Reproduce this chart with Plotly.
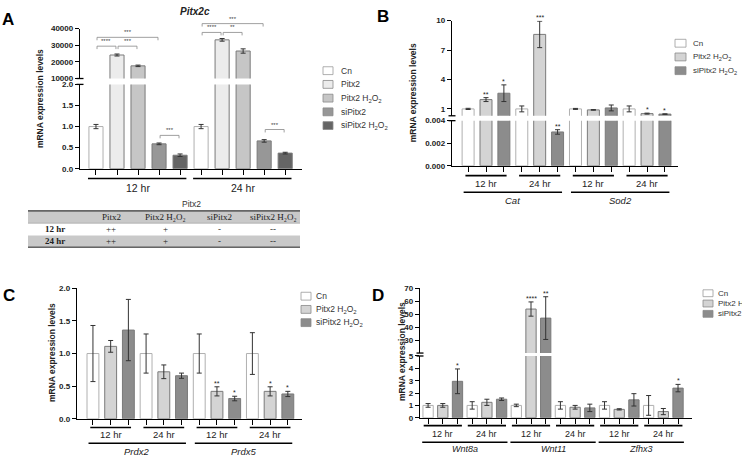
import plotly.graph_objects as go

W, H = 742, 461
FONT = "Liberation Sans, Arial, sans-serif"
SERIF = "Liberation Serif, Times New Roman, serif"

# ===================== DATA =====================
# Panel A - Pitx2c
A_series = ["Cn", "Pitx2", "Pitx2 H<sub>2</sub>O<sub>2</sub>", "siPitx2", "siPitx2 H<sub>2</sub>O<sub>2</sub>"]
A_times = ["12 hr", "24 hr"]
A_vals_12hr = [1.0, 24100, 17600, 0.59, 0.32]
A_errs_12hr = [0.05, 600, 450, 0.02, 0.03]
A_vals_24hr = [1.0, 33200, 26500, 0.66, 0.37]
A_errs_24hr = [0.05, 800, 1300, 0.03, 0.02]
A_sig_pairs = [(0, 1), (1, 2), (0, 3), (3, 4), (5, 6), (6, 7), (5, 8), (8, 9)]
A_sig_labels = ["****", "***", "***", "***", "****", "**", "***", "***"]

# Table under panel A
T_title = "Pitx2"
T_header = ["", "Pitx2", "Pitx2 H₂O₂", "siPitx2", "siPitx2 H₂O₂"]
T_row_12hr = ["12 hr", "++", "+", "-", "--"]
T_row_24hr = ["24 hr", "++", "+", "-", "--"]

# Panels B, C, D share the same three series
BCD_series = ["Cn", "Pitx2 H<sub>2</sub>O<sub>2</sub>", "siPitx2 H<sub>2</sub>O<sub>2</sub>"]

# Panel B
B_genes = ["Cat", "Sod2"]
B_times = ["12 hr", "24 hr", "12 hr", "24 hr"]
B_vals = [[1.0, 1.95, 2.6], [1.0, 8.6, 0.0030], [1.0, 0.9, 1.1], [1.0, 0.52, 0.47]]
B_errs = [[0.06, 0.2, 0.85], [0.3, 1.35, 0.0002], [0.05, 0.03, 0.3], [0.3, 0.05, 0.03]]
B_stars = ["", "**", "*", "", "***", "**", "", "", "", "", "*", "*"]

# Panel C
C_genes = ["Prdx2", "Prdx5"]
C_times = ["12 hr", "24 hr", "12 hr", "24 hr"]
C_vals = [[1.0, 1.11, 1.36], [1.0, 0.72, 0.66], [1.0, 0.42, 0.31], [1.0, 0.42, 0.38]]
C_errs = [[0.43, 0.09, 0.47], [0.30, 0.105, 0.04], [0.30, 0.07, 0.035], [0.32, 0.07, 0.04]]
C_stars = ["", "", "", "", "", "", "", "**", "*", "", "*", "*"]

# Panel D
D_genes = ["Wnt8a", "Wnt11", "Zfhx3"]
D_times = ["12 hr", "24 hr", "12 hr", "24 hr", "12 hr", "24 hr"]
D_vals = [[1.0, 1.0, 2.95], [1.0, 1.25, 1.5], [1.0, 54, 47], [1.0, 0.85, 0.8], [1.0, 0.68, 1.45], [1.0, 0.5, 2.4]]
D_errs = [[0.15, 0.15, 1.0], [0.3, 0.25, 0.1], [0.1, 5.5, 16.5], [0.3, 0.15, 0.3], [0.3, 0.05, 0.5], [0.8, 0.25, 0.3]]
D_stars = ["", "", "*", "", "", "", "", "****", "**", "", "", "", "", "", "", "", "", "*"]

# ===================== STYLE =====================
A_colors = ["#ffffff", "#ececec", "#c6c6c6", "#979797", "#656565"]
BCD_colors = ["#ffffff", "#d4d4d4", "#8c8c8c"]


def fx(p):
    return p / W


def fy(p):
    return 1 - p / H


fig = go.Figure()
shapes = []
anns = []


def text(x, y, s, size=9, xref="paper", yref="paper", color="#222", family=FONT,
         xanchor="center", yanchor="middle", **kw):
    if xref == "paper":
        x = fx(x)
    if yref == "paper":
        y = fy(y)
    anns.append(dict(x=x, y=y, xref=xref, yref=yref, text=s, showarrow=False,
                     xanchor=xanchor, yanchor=yanchor,
                     font=dict(family=family, size=size, color=color), **kw))


def line(x0, y0, x1, y1, xref="paper", color="black", width=1.5):
    if xref == "paper":
        x0, x1 = fx(x0), fx(x1)
    shapes.append(dict(type="line", x0=x0, x1=x1, y0=fy(y0), y1=fy(y1), xref=xref, yref="paper",
                       line=dict(color=color, width=width)))


axis_base = dict(showline=True, linecolor="black", linewidth=1.4, ticks="outside", ticklen=4,
                 tickwidth=1.3, tickcolor="black", showgrid=False, zeroline=False,
                 tickfont=dict(family=FONT, size=8, color="#222", weight="bold"))

layout_axes = {}


def setup_panel(xname, xdom_px, xrange_, npos, ylist):
    """ylist: list of (yname, dom_px(bottom, top), range, tickvals, fmt)"""
    xkey = "xaxis" + xname[1:]
    layout_axes[xkey] = dict(axis_base, domain=[fx(xdom_px[0]), fx(xdom_px[1])], range=list(xrange_),
                             tickvals=list(range(npos)), showticklabels=False, ticklen=5,
                             anchor=ylist[0][0])
    for yname, dom, rng, tv, fmt in ylist:
        ykey = "yaxis" + yname[1:]
        layout_axes[ykey] = dict(axis_base, domain=[fy(dom[0]), fy(dom[1])], range=list(rng),
                                 tickvals=tv, tickformat=fmt, anchor=xname)


def add_bars(series, colors, group_vals, group_errs, xname, ynames, width):
    n = len(series)
    for i in range(n):
        xs = [g * n + i for g in range(len(group_vals))]
        ys = [gv[i] for gv in group_vals]
        es = [ge[i] for ge in group_errs]
        lc = "#b0b0b0" if i == 0 else "#7a7a7a"
        for yn in ynames:
            fig.add_trace(go.Bar(x=xs, y=ys, width=width, xaxis=xname, yaxis=yn,
                                 marker=dict(color=colors[i], line=dict(color=lc, width=1)),
                                 error_y=dict(type="data", array=es, visible=True, color="#333",
                                              thickness=1, width=2.5),
                                 name=series[i], showlegend=False, hoverinfo="skip"))


def add_stars(stars, group_vals, group_errs, n, xname, ylow, yup=None, up_min=None, size=7):
    for k, s in enumerate(stars):
        if not s:
            continue
        v = group_vals[k // n][k % n]
        e = group_errs[k // n][k % n]
        yn = yup if (yup and v >= up_min) else ylow
        text(k, v + e, s, size=size, xref=xname, yref=yn, yanchor="bottom", yshift=-2)


def legend(series, colors, x0, y0, step, size=9, bw=10, bh=8, gap=6):
    for i, (s, c) in enumerate(zip(series, colors)):
        yc = y0 + i * step
        lc = "#9a9a9a" if i == 0 else "#8a8a8a"
        shapes.append(dict(type="rect", xref="paper", yref="paper", x0=fx(x0), x1=fx(x0 + bw),
                           y0=fy(yc + bh / 2), y1=fy(yc - bh / 2), fillcolor=c,
                           line=dict(color=lc, width=0.8)))
        text(x0 + bw + gap, yc, s, size=size, color="#333", xanchor="left", yanchor="middle")


def break_marks(xpx, ys_px):
    for y in ys_px:
        line(xpx - 3.5, y, xpx + 3.5, y, width=1.3)


def group_labels(times, genes, n, xname, t_ext, g_ext, ty_line, ty_text, gy_line, gy_text, tsize, gsize):
    per_gene = len(times) // len(genes)
    for gi, t in enumerate(times):
        a, b = gi * n, gi * n + n - 1
        line(a - t_ext, ty_line, b + t_ext, ty_line, xref=xname, width=1.6)
        text((a + b) / 2, ty_text, t, size=tsize, xref=xname, color="#222")
    for gj, g in enumerate(genes):
        a, b = gj * per_gene * n, (gj + 1) * per_gene * n - 1
        line(a - g_ext, gy_line, b + g_ext, gy_line, xref=xname, width=1.6)
        text((a + b) / 2, gy_text, "<i>" + g + "</i>", size=gsize, xref=xname, color="#222")


# ===================== PANEL A =====================
setup_panel("x", (80, 302), (-0.76, 9.8), 10,
            [("y", (168, 82), (0, 2), [0, 0.5, 1, 1.5, 2], ".1f"),
             ("y2", (76, 25), (10000, 40000), [10000, 20000, 30000, 40000], "d")])
add_bars(A_series, A_colors, [A_vals_12hr, A_vals_24hr], [A_errs_12hr, A_errs_24hr], "x", ["y", "y2"], 0.67)
break_marks(80, [76, 82])
for gi, t in enumerate(A_times):
    a, b = gi * 5, gi * 5 + 4
    line(a - 0.38, 178, b + 0.3, 178, xref="x", width=1.6)
    text((a + b) / 2, 188, t, size=10.5, xref="x")
A_bracket_y = [43, 43, 34, 134, 29, 29, 20, 128]
for (i, j), lab, yb in zip(A_sig_pairs, A_sig_labels, A_bracket_y):
    x0, x1 = i + 0.05, j - 0.05
    shapes.append(dict(type="path", xref="x", yref="paper",
                       path=f"M {x0},{fy(yb + 3)} L {x0},{fy(yb)} L {x1},{fy(yb)} L {x1},{fy(yb + 3)}",
                       line=dict(color="#888", width=0.8)))
    text((x0 + x1) / 2, yb, lab, size=6, xref="x", color="#444", yanchor="bottom")
text(195, 8, "<b><i>Pitx2c</i></b>", size=10)
text(40, 97, "<b>mRNA expression levels</b>", size=8.5, textangle=-90)
text(8, 16, "<b>A</b>", size=17, color="black")
legend(A_series, A_colors, 323, 68, 14, size=8.5)

# table
text(191, 204, T_title, size=8.5, color="#333")
shapes.append(dict(type="rect", xref="paper", yref="paper", x0=fx(28), x1=fx(300), y0=fy(223), y1=fy(211),
                   fillcolor="#c9c9c9", line=dict(width=0)))
shapes.append(dict(type="rect", xref="paper", yref="paper", x0=fx(28), x1=fx(300), y0=fy(247), y1=fy(236),
                   fillcolor="#c9c9c9", line=dict(width=0)))
line(28, 211, 300, 211, color="#333", width=1.4)
line(28, 223.5, 300, 223.5, color="#777", width=0.6)
line(28, 248, 300, 248, color="#333", width=1.4)
T_col_x = [55, 111, 165, 219, 273]
for row, yrow, bold in [(T_header, 217, False), (T_row_12hr, 229.5, True), (T_row_24hr, 241.5, True)]:
    for k, (cx, s) in enumerate(zip(T_col_x, row)):
        if not s:
            continue
        lab = f"<b>{s}</b>" if (bold and k == 0) else s
        text(cx, yrow, lab, size=9, family=SERIF, color="#222")

# ===================== PANEL B =====================
setup_panel("x2", (452, 678), (-0.9, 11.73), 12,
            [("y3", (165, 119), (0, 0.004), [0, 0.002, 0.004], ".3f"),
             ("y4", (114, 17), (0.3, 10), [1, 4, 7, 10], "d")])
add_bars(BCD_series, BCD_colors, B_vals, B_errs, "x2", ["y3", "y4"], 0.67)
add_stars(B_stars, B_vals, B_errs, 3, "x2", "y3", "y4", 0.3)
break_marks(452, [114, 119])
group_labels(B_times, B_genes, 3, "x2", 0.15, 0.25, 175, 183, 192, 200, 9.5, 9.5)
text(413, 91, "<b>mRNA expression levels</b>", size=8.5, textangle=-90)
text(383, 13, "<b>B</b>", size=17, color="black")
legend(BCD_series, BCD_colors, 675, 40, 14, size=8, bw=11, gap=5)

# ===================== PANEL C =====================
setup_panel("x3", (77, 302), (-0.9, 11.8), 12,
            [("y5", (423, 290), (0, 2), [0, 0.5, 1, 1.5, 2], ".1f")])
add_bars(BCD_series, BCD_colors, C_vals, C_errs, "x3", ["y5"], 0.67)
add_stars(C_stars, C_vals, C_errs, 3, "x3", "y5")
group_labels(C_times, C_genes, 3, "x3", 0.15, 0.25, 432, 439.5, 448, 456, 9.5, 9.5)
text(52, 356, "<b>mRNA expression levels</b>", size=8.5, textangle=-90)
text(9, 297, "<b>C</b>", size=17, color="black")
legend(BCD_series, BCD_colors, 301, 298, 13.5, size=8.5, gap=3)

# ===================== PANEL D =====================
setup_panel("x4", (420, 692), (-0.55, 17.95), 18,
            [("y6", (422, 359), (0, 5), [0, 1, 2, 3, 4, 5], "d"),
             ("y7", (356, 290), (20, 70), [30, 40, 50, 60, 70], "d")])
add_bars(BCD_series, BCD_colors, D_vals, D_errs, "x4", ["y6", "y7"], 0.7)
add_stars(D_stars, D_vals, D_errs, 3, "x4", "y6", "y7", 20)
break_marks(420, [356, 359])
group_labels(D_times, D_genes, 3, "x4", 0.3, 0.4, 430, 439, 447, 454, 9, 9)
text(402, 355, "<b>mRNA expression levels</b>", size=8.5, textangle=-90)
text(378, 297, "<b>D</b>", size=17, color="black")
legend(BCD_series, BCD_colors, 703, 295, 10.5, size=8, bw=10, bh=7, gap=3)

fig.update_layout(width=W, height=H, autosize=False, margin=dict(l=0, r=0, t=0, b=0),
                  paper_bgcolor="white", plot_bgcolor="white", barmode="overlay",
                  showlegend=False, shapes=shapes, annotations=anns, **layout_axes)
fig.write_html("out.html", config={"displayModeBar": False},
               post_script="document.body.style.margin='0';document.body.style.overflow='hidden';")
